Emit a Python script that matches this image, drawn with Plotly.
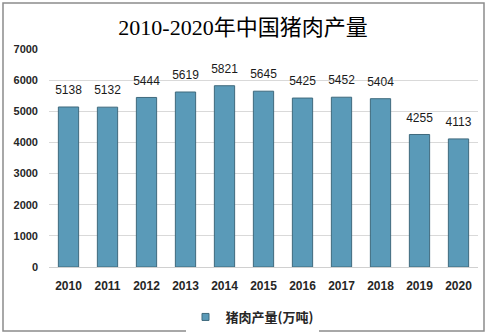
import plotly.graph_objects as go

years = ["2010", "2011", "2012", "2013", "2014", "2015", "2016", "2017", "2018", "2019", "2020"]
output = [5138, 5132, 5444, 5619, 5821, 5645, 5425, 5452, 5404, 4255, 4113]
y_ticks = [0, 1000, 2000, 3000, 4000, 5000, 6000, 7000]
series_name = "猪肉产量(万吨)"
title_text = "2010-2020年中国猪肉产量"

W, H = 490, 336
L, R, T, B = 49, 12, 49, 69
pw, ph = W - L - R, H - T - B

def px(x):
    return (x - L) / pw

def py(y):
    return (H - B - y) / ph

bar_color = "#5a9ab8"

fig = go.Figure()
fig.add_trace(go.Bar(
    x=years, y=output, name=series_name,
    marker=dict(color=bar_color, line=dict(color="#3f6a7d", width=1)),
    width=0.52,
    showlegend=False,
))
fig.add_trace(go.Scatter(
    x=years, y=output, mode="markers+text", text=[str(v) for v in output],
    marker=dict(size=14, opacity=0),
    textposition="top center", showlegend=False, hoverinfo="skip",
    textfont=dict(family="Liberation Sans, Noto Sans", size=12, color="#1a1a1a"),
))
fig.add_trace(go.Scatter(
    x=[None], y=[None], mode="markers", name=series_name,
    marker=dict(symbol="square", size=7, color=bar_color, line=dict(color="#3f6a7d", width=1)),
))

fig.add_shape(type="rect", xref="paper", yref="paper",
              x0=px(3), x1=px(484), y0=py(331), y1=py(3),
              line=dict(color="#8c8c8c", width=1.5), fillcolor="rgba(0,0,0,0)", layer="below")

fig.update_layout(
    width=W, height=H,
    margin=dict(l=L, r=R, t=T, b=B, autoexpand=False),
    paper_bgcolor="white", plot_bgcolor="white",
    title=dict(text=title_text, xref="container", x=243 / W, xanchor="center",
               yref="container", y=1 - 27 / H, yanchor="middle",
               font=dict(family="Liberation Serif, Noto Sans CJK SC", size=22, color="#000000")),
    xaxis=dict(type="category", range=[-0.5, 10.5], showgrid=False, showline=True,
               linecolor="#d0d0d0", linewidth=1, ticks="", ticklabelstandoff=8,
               tickfont=dict(family="Liberation Sans", size=12, color="#262626", weight="bold")),
    yaxis=dict(range=[0, 7000], tickvals=y_ticks, showgrid=True, gridcolor="#d9d9d9", gridwidth=1,
               zeroline=False, showline=False, ticks="", ticklabelstandoff=10,
               tickfont=dict(family="Liberation Sans", size=11, color="#262626", weight="bold")),
    legend=dict(orientation="h", x=px(252), xanchor="center", y=py(317), yanchor="middle",
                font=dict(family="Noto Sans CJK SC", size=13, color="#262626", weight="bold"),
                itemwidth=30, itemsizing="trace"),
)

fig.write_html("out.html")
